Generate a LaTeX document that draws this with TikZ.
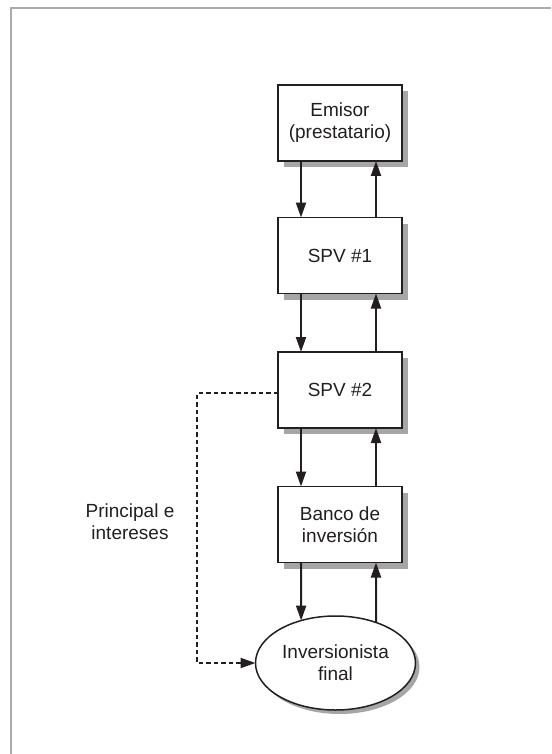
\documentclass[tikz,border=0pt]{standalone}
\usepackage{fontspec}
\setmainfont{Liberation Sans}
\usetikzlibrary{arrows.meta,shadows,shapes.geometric,calc}
\definecolor{framegray}{HTML}{ABABAB}
\definecolor{shadowgray}{HTML}{A6A6A6}
\definecolor{ink}{HTML}{231F20}
\tikzset{
  box/.style={draw=ink, line width=1.5pt, fill=white, minimum width=124pt, minimum height=76pt,
    inner sep=0pt, outer sep=0pt, align=center, font=\fontsize{19}{22}\selectfont, text=ink,
    drop shadow={shadow xshift=6pt, shadow yshift=-6pt, fill=shadowgray, opacity=1}},
  oval/.style={ellipse, draw=ink, line width=1.5pt, fill=white, minimum width=160pt, minimum height=94pt,
    inner sep=0pt, outer sep=0pt, align=center, font=\fontsize{19}{22}\selectfont, text=ink,
    drop shadow={shadow xshift=4pt, shadow yshift=-4pt, fill=shadowgray, opacity=1}},
  arr/.style={draw=ink, line width=2pt, -{Triangle[length=15pt,width=10pt]}},
  dasharr/.style={draw=ink, line width=2pt, dash pattern=on 4.5pt off 3pt, -{Triangle[length=15pt,width=10pt]}},
  lbl/.style={align=center, font=\fontsize{19}{22}\selectfont, text=ink, inner sep=0pt}
}
\begin{document}
\begin{tikzpicture}[x=1pt,y=-1pt]
\useasboundingbox (0,0) rectangle (551,754);
\draw[framegray, line width=2pt] (11,754) -- (11,8) -- (551,8);

\node[box] (emisor) at (340,123) {Emisor\\(prestatario)};
\node[box] (spv1) at (340,255.5) {SPV \#1};
\node[box] (spv2) at (340,390) {SPV \#2};
\node[box] (banco) at (340,524.5) {Banco de\\inversión};
\node[oval] (inv) at (335.5,663) {Inversionista\\final};
\node[lbl] (pe) at (130,522) {Principal e\\intereses};

\draw[arr] ([xshift=-39pt]emisor.south) -- ([xshift=-39pt]spv1.north);
\draw[arr] ([xshift=36pt]spv1.north) -- ([xshift=36pt]emisor.south);
\draw[arr] ([xshift=-39pt]spv1.south) -- ([xshift=-39pt]spv2.north);
\draw[arr] ([xshift=36pt]spv2.north) -- ([xshift=36pt]spv1.south);
\draw[arr] ([xshift=-39pt]spv2.south) -- ([xshift=-39pt]banco.north);
\draw[arr] ([xshift=36pt]banco.north) -- ([xshift=36pt]spv2.south);
\draw[arr] ([xshift=-39pt]banco.south) -- (inv.129);
\draw[arr] (inv.45) -- ([xshift=36pt]banco.south);

\coordinate (c1) at (197,393);
\coordinate (c2) at (197,663);
\draw[dasharr] ([yshift=-3pt]spv2.west) -- (c1) -- (c2) -- (inv.west);
\end{tikzpicture}
\end{document}
